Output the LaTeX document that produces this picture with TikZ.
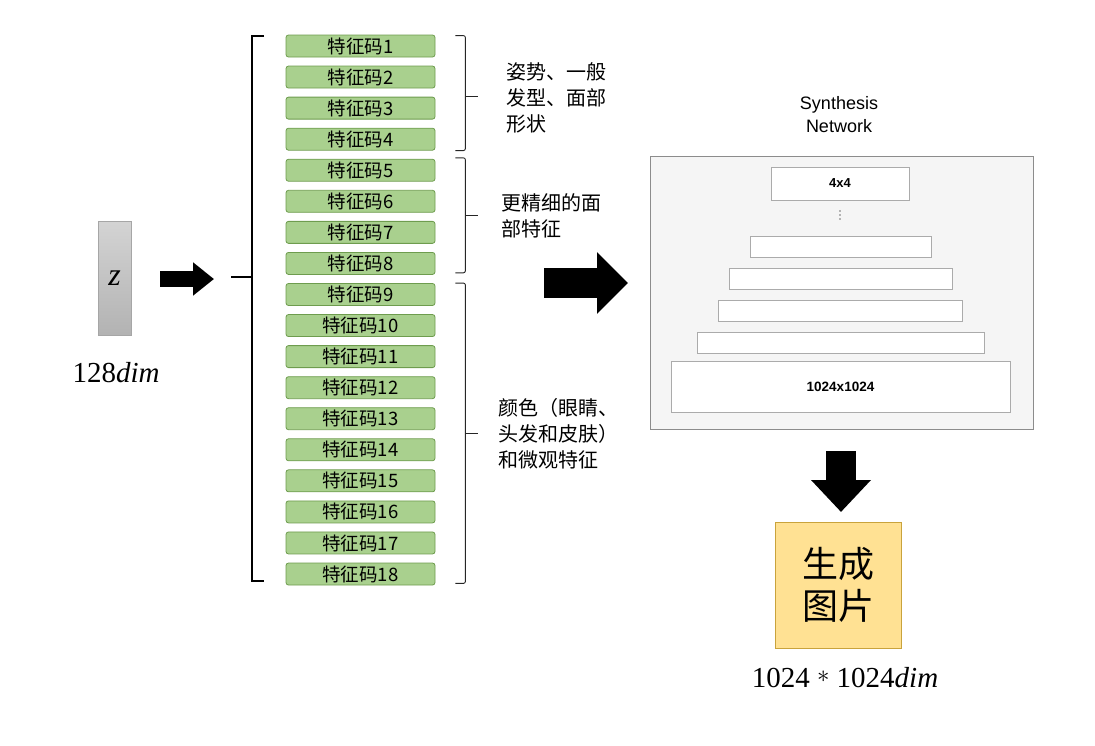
\documentclass[tikz,border=0pt]{standalone}
\usepackage{amsmath,amssymb}
\usepackage{xcolor}
\usepackage{fontspec}
\newfontfamily\cjk{Noto Sans CJK SC}
\newfontfamily\netfont{Liberation Sans}
\newfontfamily\dimfont{Liberation Serif}
\usepackage{tikz}
\usetikzlibrary{arrows.meta, positioning, calc}

\begin{document}
\begin{tikzpicture}[x=1pt, y=-1pt,
    code/.style={draw=codeedge, fill=codefill, rounded corners=2.5pt, line width=0.8pt,
        minimum width=149pt, minimum height=22pt, inner sep=0pt,
        font=\cjk\fontsize{18.5}{18.5}\selectfont},
    layer/.style={draw=layeredge, fill=white, line width=0.9pt, inner sep=0pt},
    note/.style={anchor=west, align=left, font=\cjk\fontsize{20}{26}\selectfont},
    group/.style={draw=black!85, line width=0.9pt, rounded corners=2pt},
    dimlabel/.style={font=\dimfont\fontsize{29}{29}\selectfont},
    blockarrow/.style={line width=#1}
]
% Feature codes feeding the synthesis network

\definecolor{codefill}{HTML}{A9D08E}  % green - feature codes
\definecolor{codeedge}{HTML}{6E9C4E}
\definecolor{layeredge}{HTML}{ABABAB}
\definecolor{imgfill}{HTML}{FFE193}   % yellow - output image
\definecolor{imgedge}{HTML}{C9A33C}

\useasboundingbox (0,0) rectangle (1095,745);

% Latent vector z
\node[draw=black!35, top color=black!17, bottom color=black!30, line width=0.8pt,
      minimum width=33pt, minimum height=114pt, inner sep=0pt,
      font=\dimfont\itshape\fontsize{32}{32}\selectfont] (zvec) at (114.5,278) {z};
\node[dimlabel] (zdim) at (116,373) {128\textit{dim}};

% Arrow z -> codes
\coordinate (zarrS) at (160,279);
\coordinate (zarrE) at (214,279);
\draw[blockarrow=16pt, -{Triangle[length=21pt, width=32pt]}] (zarrS) -- (zarrE);

% Feature codes 1..18
\foreach \i in {1,...,18} {
    \node[code] (c\i) at (360.5,{46+31.06*(\i-1)}) {特征码\i};
}

% Left bracket
\draw[line width=1.6pt] (264,36) -- (252,36) -- (252,581) -- (264,581);
\draw[line width=1.6pt] (231,277) -- (252,277);

% Right brackets for the three groups
\draw[group] ($(c1.north east)+(20,1)$) -- ($(c1.north east)+(30,1)$) -- ($(c4.south east)+(30,0)$) -- ($(c4.south east)+(20,0)$);
\draw[group] (465,96) -- (478,96);
\draw[group] ($(c5.north east)+(20,-1)$) -- ($(c5.north east)+(30,-1)$) -- ($(c8.south east)+(30,-2)$) -- ($(c8.south east)+(20,-2)$);
\draw[group] (465,215) -- (478,215);
\draw[group] ($(c9.north east)+(20,0)$) -- ($(c9.north east)+(30,0)$) -- ($(c18.south east)+(30,-2)$) -- ($(c18.south east)+(20,-2)$);
\draw[group] (465,433) -- (478,433);

% Group labels
\node[note] (n1) at (503,98) {姿势、一般\\发型、面部\\形状};
\node[note] (n2) at (498,215.5) {更精细的面\\部特征};
\node[note] (n3) at (495,434) {颜色（眼睛、\\头发和皮肤）\\和微观特征};

% Arrow codes -> network
\coordinate (narrS) at (544,283);
\coordinate (narrE) at (628,283);
\draw[blockarrow=30pt, -{Triangle[length=31pt, width=60pt]}] (narrS) -- (narrE);

% Synthesis network
\node[align=center, font=\netfont\fontsize{18}{23}\selectfont] (title) at (839,115) {Synthesis\\Network};
\node[draw=black!45, fill=black!4, line width=0.9pt, minimum width=383pt, minimum height=273pt] (net) at (841.5,292.5) {};
\node[layer, minimum width=138pt, minimum height=33pt, font=\netfont\bfseries\fontsize{13}{13}\selectfont] (l0) at (840,183.5) {4x4};
\foreach \d in {211,215,219} {
    \fill[black!55] (840,\d) circle (0.9pt);
}
\node[layer, minimum width=181pt, minimum height=21pt] (l1) at (840.5,246.5) {};
\node[layer, minimum width=223pt, minimum height=21pt] (l2) at (840.5,278.5) {};
\node[layer, minimum width=244pt, minimum height=21pt] (l3) at (840,310.5) {};
\node[layer, minimum width=287pt, minimum height=21pt] (l4) at (840.5,342.5) {};
\node[layer, minimum width=339pt, minimum height=51pt, font=\netfont\bfseries\fontsize{13.5}{13.5}\selectfont] (l5) at (840.5,386.5) {1024x1024};

% Arrow network -> image
\coordinate (darrS) at (841,451);
\coordinate (darrE) at (841,512);
\draw[blockarrow=30pt, -{Triangle[length=32pt, width=58pt]}] (darrS) -- (darrE);

% Generated image
\node[draw=imgedge, fill=imgfill, line width=0.9pt, minimum width=126pt, minimum height=126pt,
      align=center, font=\cjk\fontsize{36}{42}\selectfont] (img) at (838,585) {生成\\图片};
\node[dimlabel] (imgdim) at (845,678) {1024 \raisebox{5pt}{\fontsize{24}{24}\selectfont$\ast$} 1024\textit{dim}};

\end{tikzpicture}
\end{document}
